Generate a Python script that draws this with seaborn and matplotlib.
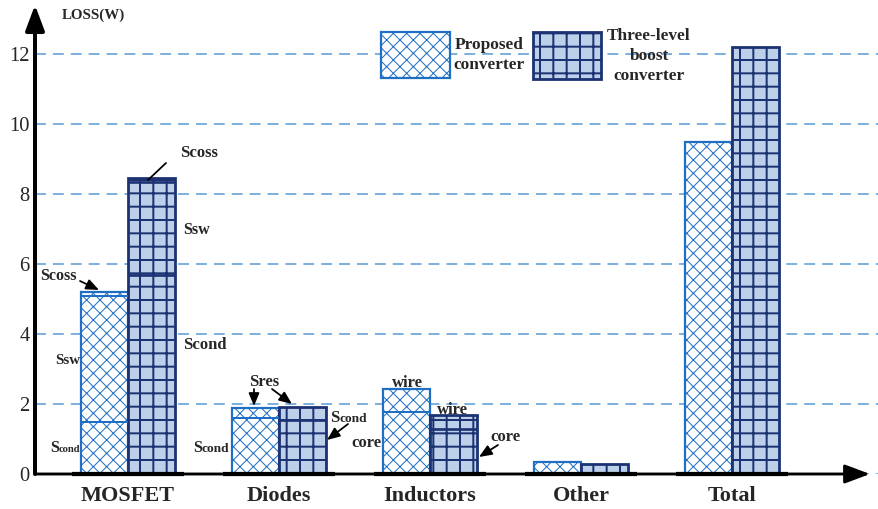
import numpy as np
import pandas as pd
import matplotlib
matplotlib.use("Agg")
import matplotlib.pyplot as plt
from matplotlib.patches import Rectangle
import seaborn as sns

categories = ["MOSFET", "Diodes", "Inductors", "Other", "Total"]
converters = ["Proposed converter", "Three-level boost converter"]

# Loss breakdown in W, listed bottom to top of each stack
proposed_mosfet = [1.5, 3.6, 0.1]       # Scond, Ssw, Scoss
proposed_diodes = [1.6, 0.3]            # Scond, Sres
proposed_inductors = [1.77, 0.66]       # core, wire
proposed_other = [0.34]
proposed_total = [9.5]

threelevel_mosfet = [5.7, 2.64, 0.12]   # Scond, Ssw, Scoss
threelevel_diodes = [1.55, 0.36]        # Scond, Sres
threelevel_inductors = [1.3, 0.4]       # core, wire
threelevel_other = [0.29]
threelevel_total = [12.2]

yticks = [0, 2, 4, 6, 8, 10, 12]

stacks = {
    converters[0]: [proposed_mosfet, proposed_diodes, proposed_inductors,
                    proposed_other, proposed_total],
    converters[1]: [threelevel_mosfet, threelevel_diodes, threelevel_inductors,
                    threelevel_other, threelevel_total],
}

df = pd.DataFrame(
    [{"category": c, "converter": conv, "loss": float(sum(seg))}
     for conv in converters for c, seg in zip(categories, stacks[conv])]
)

BLUE = "#1f6fc4"
NAVY = "#1c3272"
LIGHT = "#bdd0ea"
GRID = "#5b9bd5"

sns.set_theme(style="white")
plt.rcParams["font.family"] = ["Liberation Serif", "DejaVu Serif"]
plt.rcParams["hatch.linewidth"] = 1.2

W, H, DPI = 878, 509, 80
fig = plt.figure(figsize=(W / DPI, H / DPI), dpi=DPI)
ax = fig.add_axes([35 / W, 1 - 474 / H, (W - 35) / W, (474 - 5) / H])

sns.barplot(data=df, x="category", y="loss", hue="converter",
            order=categories, hue_order=converters,
            palette=["white", LIGHT], width=0.62, gap=0, saturation=1,
            errorbar=None, legend=False, ax=ax, zorder=3)

styles = {
    converters[0]: dict(face="white", edge=BLUE, hatch="xx", hlw=0.9, elw=2.0, blw=1.8),
    converters[1]: dict(face=LIGHT, edge=NAVY, hatch="+", hlw=1.8, elw=2.5, blw=2.4),
}

for conv, cont in zip(converters, ax.containers):
    st = styles[conv]
    for p, segs in zip(cont.patches, stacks[conv]):
        p.set_facecolor(st["face"])
        p.set_edgecolor(st["edge"])
        p.set_hatch(st["hatch"])
        p.set_linewidth(st["elw"])
        if hasattr(p, "set_hatch_linewidth"):
            p.set_hatch_linewidth(st["hlw"])
        bounds = np.cumsum(segs)[:-1]
        if len(bounds):
            ax.hlines(bounds, p.get_x(), p.get_x() + p.get_width(),
                      color=st["edge"], lw=st["blw"], zorder=4)

# axes frame, grid and ticks
ax.set_xlim((35 - 128) / 151, (W - 128) / 151)
ax.set_ylim(0, (474 - 5) / 35)
for s in ax.spines.values():
    s.set_visible(False)
ax.set_axisbelow(True)
ax.set_yticks(yticks)
ax.yaxis.grid(True, color=GRID, lw=1.4, ls=(0, (7, 4.5)))
ax.xaxis.grid(False)
ax.tick_params(axis="y", length=0, labelsize=18.5, pad=5)
ax.tick_params(axis="x", length=0, labelsize=20, pad=11)
for t in ax.get_xticklabels():
    t.set_fontweight("bold")
ax.set_xlabel("")
ax.set_ylabel("")

# arrowed axes
arrow = dict(arrowstyle="-|>,head_length=0.8,head_width=0.3", color="black",
             mutation_scale=24, shrinkA=0, shrinkB=0)
ax.annotate("", xy=(0, 1), xytext=(0, 0), xycoords="axes fraction",
            textcoords="axes fraction", arrowprops=dict(arrow, lw=3.6),
            annotation_clip=False, zorder=6)
ax.annotate("", xy=((870 - 35) / (W - 35), 0), xytext=(0, 0), xycoords="axes fraction",
            textcoords="axes fraction", arrowprops=dict(arrow, lw=2.6),
            annotation_clip=False, zorder=6)
for i in range(len(categories)):
    ax.hlines(0, i - 0.37, i + 0.37, color="black", lw=3.8, zorder=6, clip_on=False)

fig.text(62 / W, 1 - 15 / H, "LOSS(W)", fontsize=13.5, fontweight="bold", va="center")

# legend boxes
leg1 = Rectangle((381 / W, 1 - 78 / H), 69 / W, 46 / H, transform=fig.transFigure,
                 facecolor="white", edgecolor=BLUE, hatch="xx", lw=2.0)
leg2 = Rectangle((533 / W, 1 - 79 / H), 68 / W, 47 / H, transform=fig.transFigure,
                 facecolor=LIGHT, edgecolor=NAVY, hatch="+", lw=2.5)
for r, st in ((leg1, styles[converters[0]]), (leg2, styles[converters[1]])):
    if hasattr(r, "set_hatch_linewidth"):
        r.set_hatch_linewidth(st["hlw"])
    fig.add_artist(r)
fig.text(489 / W, 1 - 55 / H, "Proposed\nconverter", ha="center", va="center",
         fontsize=15.5, fontweight="bold", linespacing=1.3)
fig.text(649 / W, 1 - 56 / H, "Three-level\nboost\nconverter", ha="center", va="center",
         multialignment="center", fontsize=15.5, fontweight="bold", linespacing=1.3)


def px(x, y):
    return (x - 128) / 151, (474 - y) / 35


def label(x, y, s, size=15):
    ax.text(*px(x, y), s, fontsize=size, fontweight="bold", va="center", ha="left", zorder=7)


def s_label(x, y, sub, size=15, subsize=12):
    xd, yd = px(x, y)
    ax.text(xd, yd, "S", fontsize=size, fontweight="bold", va="baseline", zorder=7)
    ax.annotate(sub, xy=(xd, yd), xytext=(0.556 * size, 0), textcoords="offset points",
                fontsize=subsize, fontweight="bold", va="baseline", zorder=7)


def pointer(x0, y0, x1, y1, head=True):
    style = "-|>,head_length=0.6,head_width=0.25" if head else "-"
    ax.annotate("", xy=px(x1, y1), xytext=px(x0, y0),
                arrowprops=dict(arrowstyle=style, color="black", lw=1.6,
                                mutation_scale=16, shrinkA=0, shrinkB=0),
                annotation_clip=False, zorder=7)


# MOSFET
label(180, 153, "Scoss")
pointer(166, 163, 148, 180, head=False)
label(183, 230, "Ssw", 14.5)
label(183, 345, "Scond")
label(40, 276, "Scoss", 14.5)
pointer(80, 281, 99, 290)
label(55, 360, "Ssw", 13.5)
s_label(50, 452, "cond", 14.5, 9.5)

# Diodes
label(249, 382, "Sres")
pointer(254, 389, 254, 406)
pointer(272, 389, 292, 404)
s_label(193, 452, "cond", 14.5, 12)
s_label(330, 422, "cond", 15, 12)
pointer(348, 424, 327, 440)

# Inductors
label(392, 383, "wire")
label(351, 443, "core")
label(437, 410, "wire")
label(490, 437, "core")
pointer(498, 445, 479, 457)

fig.savefig("out.png", dpi=DPI)
